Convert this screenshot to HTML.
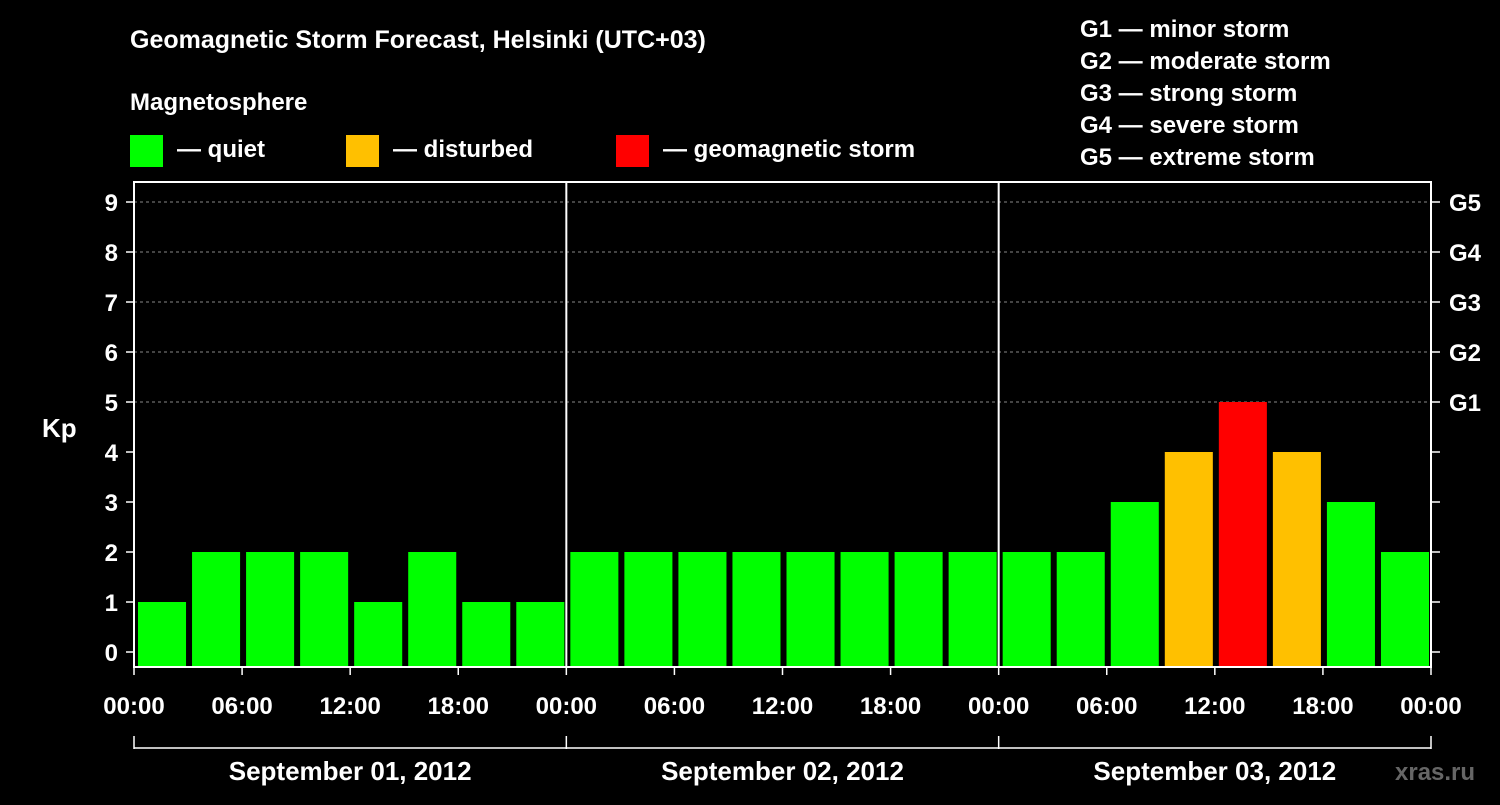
<!DOCTYPE html>
<html><head><meta charset="utf-8"><style>
body{margin:0;background:#000;width:1500px;height:800px;overflow:hidden}
svg{font-family:"Liberation Sans",Arial,sans-serif;font-weight:bold;fill:#fff}
</style></head><body>
<svg id="chart" width="1500" height="800" xmlns="http://www.w3.org/2000/svg">
<text x="130" y="48" font-size="25">Geomagnetic Storm Forecast, Helsinki (UTC+03)</text>
<text x="130" y="110" font-size="24">Magnetosphere</text>
<g font-size="24">
<rect x="130" y="135" width="33" height="32" fill="#00ff00"/>
<text x="177" y="157">— quiet</text>
<rect x="346" y="135" width="33" height="32" fill="#ffc000"/>
<text x="393" y="157">— disturbed</text>
<rect x="616" y="135" width="33" height="32" fill="#ff0000"/>
<text x="663" y="157">— geomagnetic storm</text>
</g>
<g font-size="24">
<text x="1080" y="37">G1 — minor storm</text>
<text x="1080" y="69">G2 — moderate storm</text>
<text x="1080" y="101">G3 — strong storm</text>
<text x="1080" y="133">G4 — severe storm</text>
<text x="1080" y="165">G5 — extreme storm</text>
</g>
<text x="42" y="437" font-size="26">Kp</text>
<text x="1395" y="780" font-size="24" fill="#555" style="fill:#666">xras.ru</text>
<g id="plot"></g>
</svg>
<script>
const days=["September 01, 2012","September 02, 2012","September 03, 2012"];
const kpValues=[1,2,2,2,1,2,1,1, 2,2,2,2,2,2,2,2, 2,2,3,4,5,4,3,2];
const yTicks=[0,1,2,3,4,5,6,7,8,9];
const gLabels=["G1","G2","G3","G4","G5"];
const xTickLabels=["00:00","06:00","12:00","18:00"];
const NS="http://www.w3.org/2000/svg";
const L=134,R=1431,T=182,B=667;
const dayW=(R-L)/3, slot=dayW/8;
const y=v=>652-50*v;
const x=h=>L+h*(dayW/24);
const g=document.getElementById('plot');
function mk(t,a,txt){const e=document.createElementNS(NS,t);for(const k in a)e.setAttribute(k,a[k]);if(txt!==undefined)e.textContent=txt;g.appendChild(e);return e;}
// grid
[5,6,7,8,9].forEach(v=>{const e=mk('line',{x1:L,x2:R,y1:y(v),y2:y(v),stroke:'#888','stroke-dasharray':'3,3','stroke-width':1});

});
// bars
kpValues.forEach((v,i)=>{const c=v>=5?'#ff0000':(v>=4?'#ffc000':'#00ff00');
const e=mk('rect',{x:L+i*slot+4,y:y(v),width:slot-6,height:B-y(v),fill:c});

});
// frame
const f=mk('rect',{x:L,y:T,width:R-L,height:B-T,fill:'none',stroke:'#fff','stroke-width':2});


for(let d=1;d<3;d++){const e=mk('line',{x1:L+d*dayW,x2:L+d*dayW,y1:T,y2:B,stroke:'#fff','stroke-width':2});

}
// y ticks
yTicks.forEach(v=>{mk('line',{x1:L-8,x2:L,y1:y(v),y2:y(v),stroke:'#fff','stroke-width':1.5});
mk('line',{x1:R,x2:R+9,y1:y(v),y2:y(v),stroke:'#fff','stroke-width':1.5});
const t=mk('text',{x:L-16,y:y(v)+9,'font-size':24,'text-anchor':'end'},v);

});
gLabels.forEach((s,i)=>{const t=mk('text',{x:1449,y:y(5+i)+9,'font-size':24},s);

});
// x ticks
for(let h=0;h<=72;h+=6){mk('line',{x1:x(h),x2:x(h),y1:B,y2:B+8,stroke:'#fff','stroke-width':1.5});
const t=mk('text',{x:x(h),y:714,'font-size':24,'text-anchor':'middle'},xTickLabels[(h/6)%4]);

}
// bracket
mk('line',{x1:L,x2:R,y1:748,y2:748,stroke:'#fff','stroke-width':1.5});
for(let d=0;d<=3;d++)mk('line',{x1:L+d*dayW,x2:L+d*dayW,y1:736,y2:749,stroke:'#fff','stroke-width':1.5});
days.forEach((s,d)=>{const t=mk('text',{x:L+(d+0.5)*dayW,y:780,'font-size':26,'text-anchor':'middle'},s);

});
</script>
</body></html>
